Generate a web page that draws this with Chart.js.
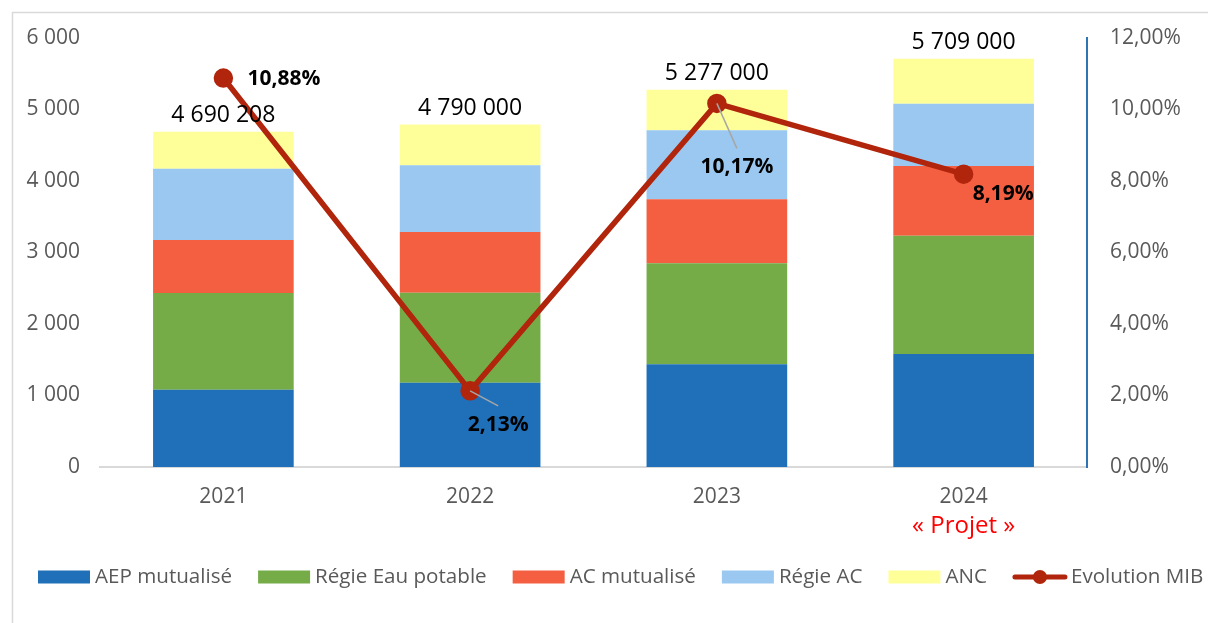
<!DOCTYPE html>
<html lang="fr">
<head>
<meta charset="utf-8">
<title>MIB</title>
<script src="https://cdn.jsdelivr.net/npm/chart.js@4.4.1/dist/chart.umd.min.js"></script>
<style>
    html, body { margin: 0; padding: 0; background: #fff; }
    #wrap { width: 1208px; height: 623px; position: relative; }
</style>
</head>
<body>
<div id="wrap"><canvas id="chart" width="1208" height="623"></canvas></div>
<script>
// Données (en euros)
const years = ['2021', '2022', '2023', '2024'];
const aepMutualise = [1080000, 1180000, 1436000, 1580000];
const regieEauPotable = [1355000, 1258000, 1413000, 1655000];
const acMutualise = [740000, 849000, 895000, 975000];
const regieAC = [995000, 933000, 965000, 871000];
const anc = [520208, 570000, 568000, 628000];
const evolutionMIB = [0.1088, 0.0213, 0.1017, 0.0819];
const leftTicks = [0, 1000000, 2000000, 3000000, 4000000, 5000000, 6000000];
const rightTicks = [0, 0.02, 0.04, 0.06, 0.08, 0.10, 0.12];

const FONT = "'Open Sans', 'DejaVu Sans', sans-serif";
const LINE_COLOR = '#B0250B';

function spaced(n) {
    return String(Math.round(n)).replace(/\B(?=(\d{3})+(?!\d))/g, ' ');
}

function pct(v) {
    return (v * 100).toFixed(2).replace('.', ',') + '%';
}

// Étiquettes, légende et cadre
const extras = {
    id: 'extras',
    afterDatasetsDraw(chart) {
        const ctx = chart.ctx;
        const x = chart.scales.x;
        const y = chart.scales.y;
        const bars = chart.data.datasets.filter(d => d.type === 'bar');

        // totaux au-dessus des barres
        ctx.save();
        ctx.fillStyle = '#000';
        ctx.font = '23px ' + FONT;
        ctx.textAlign = 'center';
        ctx.textBaseline = 'middle';
        years.forEach((yr, i) => {
            const total = bars.reduce((s, d) => s + d.data[i], 0);
            ctx.fillText(spaced(total), x.getPixelForValue(i), y.getPixelForValue(total) - 16);
        });

        // étiquettes de la courbe
        const meta = chart.getDatasetMeta(5);
        const offsets = [[24, 1, false], [28, 34, true], [20, 64, true], [9, 20, false]];
        ctx.font = 'bold 21px ' + FONT;
        ctx.textAlign = 'left';
        meta.data.forEach((pt, i) => {
            const o = offsets[i];
            const txt = pct(evolutionMIB[i]);
            const w = ctx.measureText(txt).width;
            if (o[2]) {
                ctx.strokeStyle = '#A6A6A6';
                ctx.lineWidth = 1.5;
                ctx.beginPath();
                ctx.moveTo(pt.x, pt.y);
                ctx.lineTo(pt.x + o[0], pt.y + o[1] - 19);
                ctx.stroke();
                ctx.fillText(txt, pt.x + o[0] - w / 2, pt.y + o[1]);
            } else {
                ctx.fillText(txt, pt.x + o[0], pt.y + o[1]);
            }
        });

        // « Projet »
        ctx.fillStyle = '#FF0000';
        ctx.font = '24px ' + FONT;
        ctx.textAlign = 'center';
        ctx.fillText('« Projet »', x.getPixelForValue(3), 526);

        // légende
        ctx.font = '20.6px ' + FONT;
        ctx.textAlign = 'left';
        let lx = 38;
        const ly = 577;
        const items = [0, 1, 2, 3, 4, 5].map(k => chart.data.datasets[k]);
        items.forEach(d => {
            if (d.type === 'bar') {
                ctx.fillStyle = d.backgroundColor;
                ctx.fillRect(lx, ly - 6.5, 52, 13);
                lx += 57;
            } else {
                ctx.strokeStyle = d.borderColor;
                ctx.lineWidth = 5;
                ctx.lineCap = 'round';
                ctx.beginPath();
                ctx.moveTo(lx + 2, ly);
                ctx.lineTo(lx + 52, ly);
                ctx.stroke();
                ctx.fillStyle = d.borderColor;
                ctx.beginPath();
                ctx.arc(lx + 27, ly, 7, 0, Math.PI * 2);
                ctx.fill();
                lx += 58;
            }
            ctx.fillStyle = '#595959';
            ctx.fillText(d.label, lx, ly);
            lx += ctx.measureText(d.label).width + 26;
        });

        // cadre
        ctx.strokeStyle = '#D9D9D9';
        ctx.lineWidth = 1.5;
        ctx.strokeRect(12.5, 12.5, 1400, 800);
        ctx.restore();
    }
};

window.onload = function () {
    const chartContext = document.getElementById('chart').getContext('2d');

    const barDataset = (label, data, color) => ({
        type: 'bar',
        label: label,
        data: data,
        backgroundColor: color,
        borderWidth: 0,
        stack: 's',
        yAxisID: 'y',
        order: 1,
        barPercentage: 0.57,
        categoryPercentage: 1
    });

    new Chart(chartContext, {
        data: {
            labels: years,
            datasets: [
                barDataset('AEP mutualisé', aepMutualise, '#1F70B8'),
                barDataset('Régie Eau potable', regieEauPotable, '#75AC48'),
                barDataset('AC mutualisé', acMutualise, '#F55F41'),
                barDataset('Régie AC', regieAC, '#9BC8F0'),
                barDataset('ANC', anc, '#FFFF99'),
                {
                    type: 'line',
                    label: 'Evolution MIB',
                    data: evolutionMIB,
                    borderColor: LINE_COLOR,
                    backgroundColor: LINE_COLOR,
                    borderWidth: 5.5,
                    pointRadius: 7,
                    pointHoverRadius: 7,
                    tension: 0,
                    yAxisID: 'y1',
                    order: 0
                }
            ]
        },
        options: {
            responsive: false,
            animation: false,
            layout: { padding: { top: 38, left: 0, right: 0, bottom: 0 } },
            plugins: {
                legend: { display: false },
                tooltip: { enabled: false }
            },
            scales: {
                x: {
                    stacked: true,
                    grid: { display: false, drawTicks: false },
                    border: { display: true, color: '#D9D9D9', width: 2 },
                    ticks: { color: '#595959', font: { family: FONT, size: 21 }, padding: 17 },
                    afterFit(s) { s.height = 156; }
                },
                y: {
                    stacked: true,
                    position: 'left',
                    min: 0,
                    max: 6000000,
                    grid: { display: false, drawTicks: false },
                    border: { display: false },
                    afterBuildTicks(s) { s.ticks = leftTicks.map(v => ({ value: v })); },
                    ticks: {
                        color: '#595959',
                        font: { family: FONT, size: 21 },
                        padding: 20,
                        callback: v => spaced(v / 1000)
                    },
                    afterFit(s) { s.width = 100; }
                },
                y1: {
                    position: 'right',
                    min: 0,
                    max: 0.12,
                    grid: { display: false, drawTicks: false },
                    border: { display: true, color: '#2E75B6', width: 2 },
                    afterBuildTicks(s) { s.ticks = rightTicks.map(v => ({ value: v })); },
                    ticks: {
                        color: '#595959',
                        font: { family: FONT, size: 21 },
                        padding: 23,
                        callback: v => pct(v)
                    },
                    afterFit(s) { s.width = 121; }
                }
            }
        },
        plugins: [extras]
    });
};
</script>
</body>
</html>
